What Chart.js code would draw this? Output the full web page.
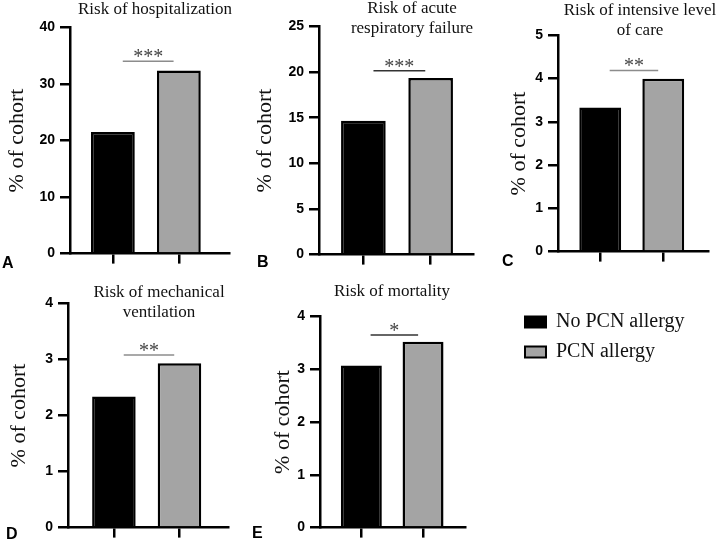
<!DOCTYPE html>
<html>
<head>
<meta charset="utf-8">
<script src="https://cdn.jsdelivr.net/npm/chart.js@4.4.1/dist/chart.umd.min.js"></script>
<style>
  html, body { margin: 0; padding: 0; background: #fff; }
  #fig { position: relative; width: 719px; height: 543px; overflow: hidden; }
  #fig canvas { position: absolute; }
  .ttl { position: absolute; width: 300px; text-align: center; font: 17px/20px "Liberation Serif", "Times New Roman", serif; color: #111; white-space: nowrap; }
  .lbl { position: absolute; font: bold 16px/15px "Liberation Sans", Arial, sans-serif; color: #000; }
</style>
</head>
<body>
<div id="fig"></div>
<script>
// data
const panelLetters = ['A', 'B', 'C', 'D', 'E'];
const titles = [
  ['Risk of hospitalization'],
  ['Risk of acute', 'respiratory failure'],
  ['Risk of intensive level', 'of care'],
  ['Risk of mechanical', 'ventilation'],
  ['Risk of mortality']
];
const seriesNames = ['No PCN allergy', 'PCN allergy'];
const noPcn = [21.5, 14.65, 3.33, 2.34, 3.07];
const pcn = [32.4, 19.36, 4.0, 2.93, 3.52];
const yMax = [40, 25, 5, 4, 4];
const yStep = [10, 5, 1, 1, 1];
const sigLevel = [34.0, 20.15, 4.19, 3.08, 3.65];
const sigStars = ['***', '***', '**', '**', '*'];

const colors = ['#000000', '#a4a4a4'];
const serif = '"Liberation Serif", "Times New Roman", serif';
const sans = '"Liberation Sans", Arial, sans-serif';

// panel placement (px) and x extent around the two bars
const boxes = [
  {left: 4,   top: 14,  axis: 70,  right: 229, bottom: 255, xr: [-0.65, 1.76], tc: 155, tt: -1,  lx: 2,   ly: 255, sig: '#8c8c8c'},
  {left: 252, top: 13,  axis: 319, right: 473, bottom: 256, xr: [-0.66, 1.63], tc: 412, tt: -2,  lx: 257, ly: 254, sig: '#333'},
  {left: 506, top: 22,  axis: 558, right: 708, bottom: 253, xr: [-0.67, 1.71], tc: 640, tt: 0,   lx: 502, ly: 253, sig: '#8c8c8c'},
  {left: 6,   top: 290, axis: 68,  right: 228, bottom: 529, xr: [-0.70, 1.74], tc: 159, tt: 282, lx: 6,   ly: 526, sig: '#8c8c8c'},
  {left: 270, top: 303, axis: 320, right: 465, bottom: 529, xr: [-0.67, 1.68], tc: 392, tt: 281, lx: 252, ly: 525, sig: '#333'}
];

const fig = document.getElementById('fig');

// significance bar + stars
const sigPlugin = {
  id: 'sig',
  afterDatasetsDraw(chart, args, opts) {
    const {ctx, scales: {x, y}} = chart;
    const yy = y.getPixelForValue(opts.level);
    const x0 = x.getPixelForValue(0.15);
    const x1 = x.getPixelForValue(0.92);
    ctx.save();
    ctx.strokeStyle = opts.color;
    ctx.lineWidth = 1.5;
    ctx.beginPath();
    ctx.moveTo(x0, yy);
    ctx.lineTo(x1, yy);
    ctx.stroke();
    ctx.fillStyle = '#444';
    ctx.font = '20px ' + serif;
    ctx.textAlign = 'center';
    ctx.textBaseline = 'alphabetic';
    ctx.fillText(opts.stars, (x0 + x1) / 2, yy + 2);
    ctx.restore();
  }
};

function addCanvas(left, top, w, h) {
  const c = document.createElement('canvas');
  c.width = w; c.height = h;
  c.style.left = left + 'px';
  c.style.top = top + 'px';
  c.style.width = w + 'px';
  c.style.height = h + 'px';
  fig.appendChild(c);
  return c;
}

boxes.forEach((b, i) => {
  const w = b.right + 4 - b.left;
  const h = b.bottom + 12 - b.top;
  const canvas = addCanvas(b.left, b.top, w, h);

  new Chart(canvas, {
    type: 'bar',
    data: {
      datasets: [{
        data: [{x: 0, y: noPcn[i]}, {x: 1, y: pcn[i]}],
        backgroundColor: colors,
        borderColor: '#000',
        borderWidth: 2.5,
        barPercentage: 0.83,
        categoryPercentage: 0.8
      }]
    },
    options: {
      responsive: false,
      animation: false,
      devicePixelRatio: 1,
      events: [],
      layout: {padding: {top: 10, right: 4, bottom: 2, left: 0}},
      plugins: {
        legend: {display: false},
        tooltip: {enabled: false},
        sig: {level: sigLevel[i], stars: sigStars[i], color: b.sig}
      },
      scales: {
        x: {
          type: 'linear',
          min: b.xr[0],
          max: b.xr[1],
          offset: false,
          afterBuildTicks: s => { s.ticks = [{value: 0}, {value: 1}]; },
          afterFit: s => { s.height = 10; },
          ticks: {display: false},
          grid: {offset: false, drawOnChartArea: false, drawTicks: true, tickLength: 10, lineWidth: 2.5, color: '#000'},
          border: {display: true, width: 2.5, color: '#000'}
        },
        y: {
          min: 0,
          max: yMax[i],
          afterFit: s => { s.width = b.axis - b.left; },
          ticks: {stepSize: yStep[i], padding: 5, color: '#000', font: {family: sans, size: 14, weight: 'bold'}},
          grid: {drawOnChartArea: false, drawTicks: true, tickLength: 10, lineWidth: 2.5, color: '#000'},
          border: {display: true, width: 2.5, color: '#000'},
          title: {display: true, text: '% of cohort', color: '#111', padding: {top: 0, bottom: 0}, font: {family: serif, size: 22}}
        }
      }
    },
    plugins: [sigPlugin]
  });

  const t = document.createElement('div');
  t.className = 'ttl';
  t.style.left = (b.tc - 150) + 'px';
  t.style.top = b.tt + 'px';
  t.innerHTML = titles[i].join('<br>');
  fig.appendChild(t);

  const l = document.createElement('div');
  l.className = 'lbl';
  l.style.left = b.lx + 'px';
  l.style.top = b.ly + 'px';
  l.textContent = panelLetters[i];
  fig.appendChild(l);
});

// shared legend (tall canvas so both rows fit in the top box)
const legCanvas = addCanvas(515, 302, 200, 200);
new Chart(legCanvas, {
  type: 'bar',
  data: {
    labels: [],
    datasets: seriesNames.map((name, k) => ({
      label: name,
      data: [],
      backgroundColor: colors[k],
      borderColor: '#000',
      borderWidth: 2
    }))
  },
  options: {
    responsive: false,
    animation: false,
    devicePixelRatio: 1,
    events: [],
    layout: {padding: 0},
    scales: {x: {display: false}, y: {display: false}},
    plugins: {
      tooltip: {enabled: false},
      legend: {
        position: 'top',
        align: 'start',
        labels: {boxWidth: 21, boxHeight: 11, padding: 10, color: '#111', font: {family: serif, size: 20}}
      }
    }
  }
});
</script>
</body>
</html>
